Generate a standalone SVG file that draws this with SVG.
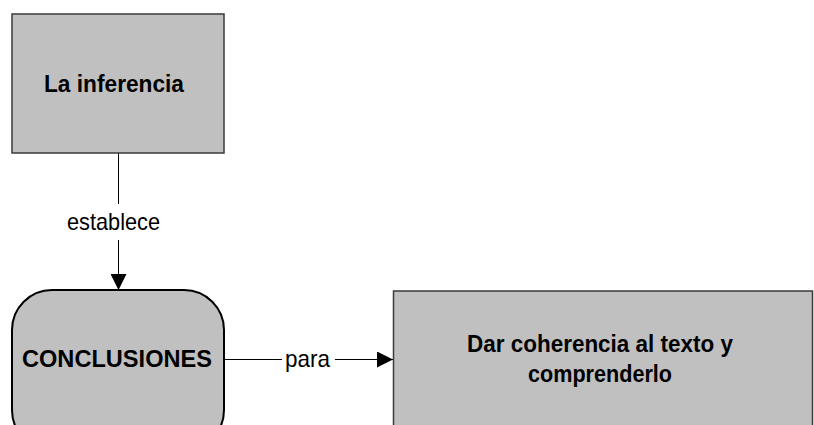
<svg xmlns="http://www.w3.org/2000/svg" width="814" height="425" viewBox="0 0 814 425">
<style>
.box{fill:#c0c0c0;stroke:#3a3a3a;stroke-width:1.5}
.rbox{fill:#c0c0c0;stroke:#000;stroke-width:2}
.t{font-family:"Liberation Sans",Arial,sans-serif;font-size:24px;fill:#000;text-anchor:middle}
.b{font-weight:bold}
.ln{stroke:#000;stroke-width:1;fill:none}
</style>
<defs>
<marker id="ah" markerWidth="16" markerHeight="16" refX="16" refY="8" orient="auto" markerUnits="userSpaceOnUse" viewBox="0 0 16 16">
<path d="M0,0 L16,8 L0,16 Z" fill="#000"/>
</marker>
</defs>
<rect width="814" height="425" fill="#fff"/>
<g id="connectors">
<line class="ln" x1="118.5" y1="153" x2="118.5" y2="204"/>
<line class="ln" x1="118.5" y1="240" x2="118.5" y2="290" marker-end="url(#ah)"/>
<text class="t" x="113.5" y="230" textLength="93" lengthAdjust="spacingAndGlyphs">establece</text>
<line class="ln" x1="224" y1="359.5" x2="282" y2="359.5"/>
<line class="ln" x1="335" y1="359.5" x2="393" y2="359.5" marker-end="url(#ah)"/>
<text class="t" x="307.5" y="367" textLength="45" lengthAdjust="spacingAndGlyphs">para</text>
</g>
<g id="node-inferencia">
<rect class="box" x="12" y="14" width="212" height="139"/>
<text class="t b" x="114" y="92" textLength="140" lengthAdjust="spacingAndGlyphs">La inferencia</text>
</g>
<g id="node-conclusiones">
<rect class="rbox" x="12" y="290" width="212" height="160" rx="40" ry="40"/>
<text class="t b" x="117" y="367" textLength="190" lengthAdjust="spacingAndGlyphs">CONCLUSIONES</text>
</g>
<g id="node-coherencia">
<rect class="box" x="393.5" y="291" width="419" height="160"/>
<text class="t b" x="600" y="352" textLength="266" lengthAdjust="spacingAndGlyphs">Dar coherencia al texto y</text>
<text class="t b" x="600" y="382" textLength="144" lengthAdjust="spacingAndGlyphs">comprenderlo</text>
</g>
</svg>
